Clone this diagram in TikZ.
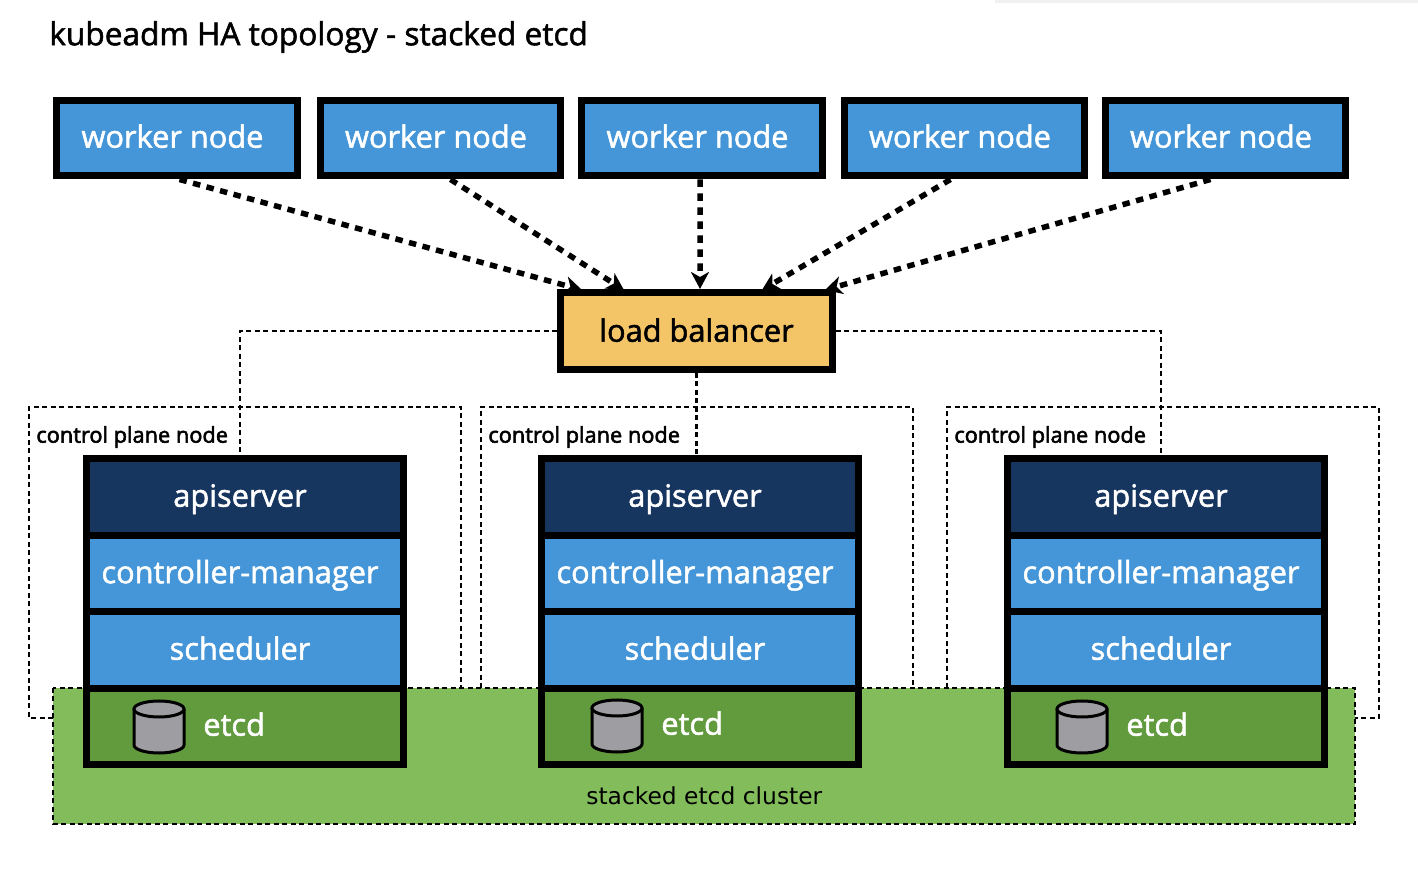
\documentclass[tikz,border=0pt]{standalone}
\usepackage{fontspec}
\setmainfont{Open Sans}
\newfontfamily\clusterfont{DejaVu Sans}
\newcommand\heavytext{\special{pdf:code 2 Tr .3 w}}
\usetikzlibrary{arrows.meta}
\definecolor{bluefill}{HTML}{4496D8}
\definecolor{navyfill}{HTML}{16355F}
\definecolor{yellowfill}{HTML}{F4C567}
\definecolor{greenfill}{HTML}{82BC5B}
\definecolor{etcdfill}{HTML}{629A3E}
\definecolor{drumfill}{HTML}{9E9EA2}
\tikzset{
  workerbox/.style={draw=black,line width=.14cm,fill=bluefill,text=white,font=\fontsize{17.5}{20}\selectfont\heavytext,text height=.5cm,text depth=.112cm,minimum width=4.82cm,minimum height=1.52cm,inner sep=0pt,execute at end node=\hspace{.18cm}},
  lbbox/.style={draw=black,line width=.14cm,fill=yellowfill,font=\fontsize{17.5}{20}\selectfont\heavytext,text height=.5cm,text depth=.072cm,minimum width=5.44cm,minimum height=1.54cm,inner sep=0pt},
  apibox/.style={draw=black,line width=.14cm,fill=navyfill,text=white,font=\fontsize{17.5}{20}\selectfont\heavytext,text height=.5cm,text depth=.112cm,minimum width=6.36cm,minimum height=1.53cm,inner sep=0pt,execute at end node=\hspace{.2cm}},
  compbox/.style={apibox,fill=bluefill},
  etcdbox/.style={draw=black,line width=.14cm,fill=etcdfill,minimum width=6.36cm,minimum height=1.53cm},
  etcdtext/.style={text=white,font=\fontsize{17.5}{20}\selectfont\heavytext,text height=.5cm,text depth=.112cm,anchor=west,inner sep=0pt},
  smalltext/.style={font=\fontsize{12.4}{14}\selectfont\heavytext,anchor=west,inner sep=0pt},
  thindash/.style={line width=.055cm,dash pattern=on .1cm off .07cm},
  thickdash/.style={line width=.11cm,dash pattern=on .15cm off .13cm,-{Stealth[length=.34cm,width=.36cm,inset=.1cm]}},
  drum/.pic={
    \draw[line width=.06cm,fill=drumfill] (-25,-18) -- (-25,18) arc[start angle=180,end angle=0,x radius=25,y radius=8] -- (25,-18);
    \draw[line width=.06cm,fill=drumfill] (0,-18) ellipse [x radius=25,y radius=8];
  }
}
\begin{document}
\begin{tikzpicture}[x=.02cm,y=-.02cm]
\useasboundingbox (0,0) rectangle (1418,878);
\fill[black!6] (995,0) rectangle (1418,3);
\node[font=\fontsize{18}{20}\selectfont\heavytext,anchor=west,inner sep=0pt] (title) at (49,37) {kubeadm HA topology - stacked etcd};
\draw[thindash] (53,718) -- (29,718) -- (29,407) -- (461,407) -- (461,688);
\draw[thindash] (481,688) -- (481,407) -- (913,407) -- (913,688);
\draw[thindash] (947,688) -- (947,407) -- (1379,407) -- (1379,718) -- (1355,718);
\draw[thindash,fill=greenfill] (53,688) rectangle (1355,824);
\node[workerbox] (w1) at (177,138) {worker node};
\node[workerbox] (w2) at (440.5,138) {worker node};
\node[workerbox] (w3) at (702,138) {worker node};
\node[workerbox] (w4) at (964.5,138) {worker node};
\node[workerbox] (w5) at (1225.5,138) {worker node};
\node[lbbox] (lb) at (696.5,331) {load balancer};
\coordinate (lbin1) at (582,290);
\coordinate (lbin2) at (624,290);
\coordinate (lbin3) at (700,289);
\coordinate (lbin4) at (762,290);
\coordinate (lbin5) at (825,290);
\draw[thickdash] ([xshift=.05cm]w1.south) -- (lbin1);
\draw[thickdash] ([xshift=.2cm]w2.south) -- (lbin2);
\draw[thickdash] ([xshift=-.04cm]w3.south) -- (lbin3);
\draw[thickdash] ([xshift=-.28cm]w4.south) -- (lbin4);
\draw[thickdash] ([xshift=-.3cm]w5.south) -- (lbin5);
\node[apibox] (api1) at (245,497) {apiserver};
\node[compbox] (cm1) at (245,573.5) {controller-manager};
\node[compbox] (sch1) at (245,650) {scheduler};
\node[etcdbox] (etcd1) at (245,726.5) {};
\pic at (159,727) {drum};
\node[etcdtext] (etcdtext1) at (203,726) {etcd};
\node[apibox] (api2) at (700,497) {apiserver};
\node[compbox] (cm2) at (700,573.5) {controller-manager};
\node[compbox] (sch2) at (700,650) {scheduler};
\node[etcdbox] (etcd2) at (700,726.5) {};
\pic at (617,726) {drum};
\node[etcdtext] (etcdtext2) at (661,725) {etcd};
\node[apibox] (api3) at (1166,497) {apiserver};
\node[compbox] (cm3) at (1166,573.5) {controller-manager};
\node[compbox] (sch3) at (1166,650) {scheduler};
\node[etcdbox] (etcd3) at (1166,726.5) {};
\pic at (1082,727) {drum};
\node[etcdtext] (etcdtext3) at (1126,726) {etcd};
\draw[thindash] (lb.west) -| ([xshift=-.1cm]api1.north);
\draw[thindash] (lb.south) -- (lb.south |- api2.north);
\draw[thindash] (lb.east) -| ([xshift=-.1cm]api3.north);
\node[smalltext] (cplabel1) at (36,437) {control plane node};
\node[smalltext] (cplabel2) at (488,437) {control plane node};
\node[smalltext] (cplabel3) at (954,437) {control plane node};
\node[font=\fontsize{13.3}{14}\clusterfont,anchor=west,inner sep=0pt] (clusterlabel) at (586,796) {stacked etcd cluster};
\end{tikzpicture}
\end{document}
